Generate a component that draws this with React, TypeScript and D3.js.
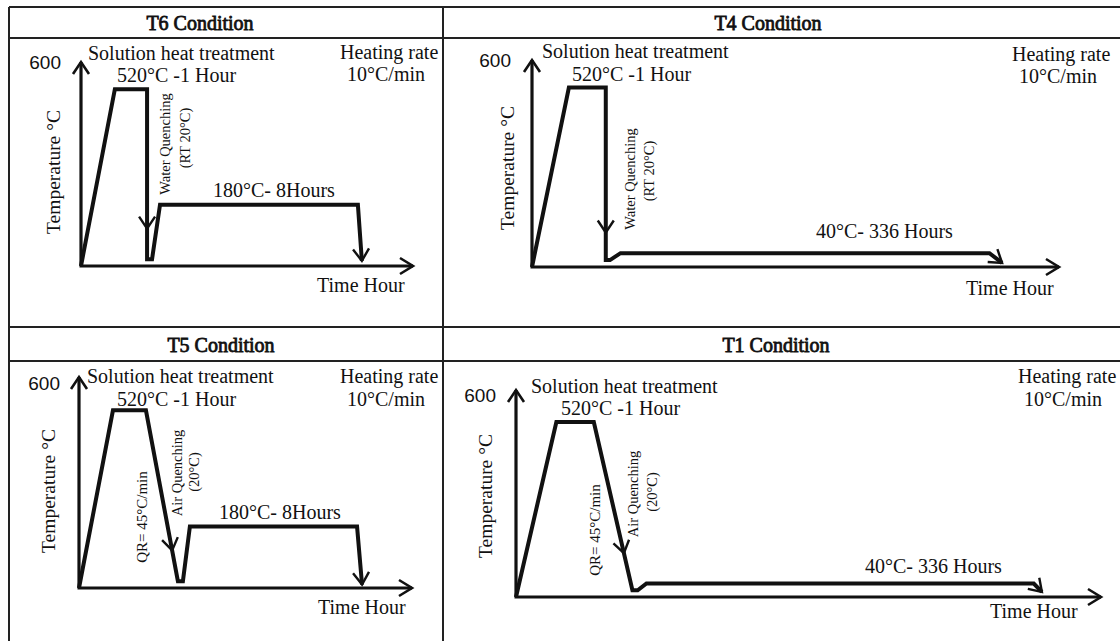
import React from "react";
import * as d3 from "d3";

const panelTitles = ["T6 Condition", "T4 Condition", "T5 Condition", "T1 Condition"];

// schematic time (0-100 along the time axis) and temperature (°C) of each profile
const t6Time = [0, 10.2, 19.9, 19.9, 21.4, 23.8, 83.4, 84.6];
const t6Temp = [0, 520, 520, 20, 20, 180, 180, 15];
const t4Time = [0, 7.0, 14.0, 14.0, 14.8, 16.8, 86.8, 89.2];
const t4Temp = [0, 520, 520, 20, 20, 40, 40, 12];
const t5Time = [0, 10.2, 20.1, 29.7, 31.2, 33.3, 83.5, 85.0];
const t5Temp = [0, 520, 520, 20, 20, 180, 180, 10];
const t1Time = [0, 6.9, 13.3, 19.9, 20.8, 22.3, 88.5, 89.9];
const t1Temp = [0, 520, 520, 20, 20, 40, 40, 15];

// where the quench arrow sits along the quench segment (fraction)
const quenchArrowAt = [0.82, 0.84, 0.82, 0.78];

const yTicks = [600];
const solutionText = ["Solution heat treatment", "520°C -1 Hour"];
const rateText = ["Heating rate", "10°C/min"];
const agingText = ["180°C- 8Hours", "40°C- 336 Hours", "180°C- 8Hours", "40°C- 336 Hours"];
const quenchText = [
  ["Water Quenching", "(RT 20°C)"],
  ["Water Quenching", "(RT 20°C)"],
  ["Air Quenching", "(20°C)"],
  ["Air Quenching", "(20°C)"],
];
const qrText = "QR= 45°C/min";
const xLabel = "Time Hour";
const yLabel = "Temperature °C";

const profiles = [
  { time: t6Time, temp: t6Temp },
  { time: t4Time, temp: t4Temp },
  { time: t5Time, temp: t5Temp },
  { time: t1Time, temp: t1Temp },
];

// layout of each panel (pixels)
type Pt = [number, number];
interface Layout {
  x0: number; y0: number; len: number; y600: number; yTop: number; gap: number;
  title: Pt; sol: Pt; hold: Pt; heat: Pt; rate: Pt; aging: Pt; time: Pt;
  yLab: Pt; q1: Pt; q2: Pt; qr?: Pt;
}
const layouts: Layout[] = [
  { x0: 81, y0: 266, len: 332, y600: 62, yTop: 62, gap: 20,
    title: [200, 30], sol: [88, 60], hold: [117, 82], heat: [340, 59], rate: [347, 81],
    aging: [213, 197], time: [317, 292], yLab: [53, 172], q1: [165, 144], q2: [185, 138] },
  { x0: 532, y0: 267, len: 527, y600: 60, yTop: 60, gap: 21,
    title: [768, 30], sol: [542, 58], hold: [572, 81], heat: [1012, 61], rate: [1019, 83],
    aging: [816, 238], time: [966, 295], yLab: [507, 168], q1: [630, 179], q2: [649, 171] },
  { x0: 79, y0: 588, len: 333, y600: 383, yTop: 377, gap: 19,
    title: [221, 352], sol: [87, 383], hold: [117, 406], heat: [340, 383], rate: [347, 406],
    aging: [219, 519], time: [318, 614], yLab: [48, 491], q1: [177, 473], q2: [194, 472], qr: [142, 517] },
  { x0: 516, y0: 597, len: 585, y600: 395, yTop: 390, gap: 20,
    title: [776, 352], sol: [531, 393], hold: [561, 415], heat: [1018, 383], rate: [1024, 406],
    aging: [865, 573], time: [990, 618], yLab: [485, 496], q1: [633, 494], q2: [652, 492], qr: [595, 530] },
];

const serif = "'Liberation Serif', 'Times New Roman', serif";
const sans = "'Liberation Sans', Arial, sans-serif";

// open "V" arrowhead with its tip at (x,y), pointing along (dx,dy)
const chevron = (x: number, y: number, dx: number, dy: number, L: number, W: number) => {
  const n = Math.hypot(dx, dy) || 1;
  const ux = dx / n, uy = dy / n;
  const bx = x - ux * L, by = y - uy * L;
  return `M${bx - uy * W},${by + ux * W}L${x},${y}L${bx + uy * W},${by - ux * W}`;
};

const Txt = ({ p, text, size = 20, anchor = "start", bold = false, rot = false, family = serif }: any) => (
  <text
    transform={`translate(${p[0]},${p[1]})${rot ? " rotate(-90)" : ""}`}
    textAnchor={anchor}
    dominantBaseline={rot ? "central" : "auto"}
    fontFamily={family}
    fontSize={size}
    fill="#111"
    stroke={bold ? "#111" : "none"}
    strokeWidth={bold ? 0.8 : 0}
  >
    {text}
  </text>
);

const Panel = ({ i }: { i: number }) => {
  const L = layouts[i];
  const { time, temp } = profiles[i];
  const x = d3.scaleLinear().domain([0, 100]).range([L.x0, L.x0 + L.len]);
  const y = d3.scaleLinear().domain([0, 600]).range([L.y0, L.y600]);
  const line = d3.line<number>().x((_, k) => x(time[k])).y((d) => y(d));

  // quench arrow on segment 2 -> 3
  const f = quenchArrowAt[i];
  const ax = x(time[2]) + (x(time[3]) - x(time[2])) * f;
  const ay = y(temp[2]) + (y(temp[3]) - y(temp[2])) * f;
  const qdx = x(time[3]) - x(time[2]), qdy = y(temp[3]) - y(temp[2]);
  const n = time.length - 1;
  const edx = x(time[n]) - x(time[n - 1]), edy = y(temp[n]) - y(temp[n - 1]);

  return (
    <g>
      <Txt p={L.title} text={panelTitles[i]} anchor="middle" bold size={20} />
      {/* axes */}
      <g stroke="#111" fill="none" strokeWidth={3.2}>
        <line x1={L.x0} y1={L.y0} x2={L.x0} y2={L.yTop} />
        <line x1={L.x0 - 1.5} y1={L.y0} x2={L.x0 + L.len} y2={L.y0} />
        <path d={chevron(L.x0, L.yTop, 0, -1, 12, 8)} strokeWidth={2.6} />
        <path d={chevron(L.x0 + L.len, L.y0, 1, 0, 13, 8)} strokeWidth={2.6} />
      </g>
      {yTicks.map((v) => (
        <Txt key={v} p={[L.x0 - L.gap, y(v) + 7]} text={String(v)} anchor="end" family={sans} size={19} />
      ))}
      {/* profile */}
      <path d={line(temp) || ""} fill="none" stroke="#111" strokeWidth={4} strokeLinejoin="miter" />
      <g stroke="#111" fill="none" strokeWidth={2.4}>
        <path d={chevron(ax, ay, qdx, qdy, 12, 8)} />
        <path d={chevron(x(time[n]), y(temp[n]), edx, edy, 12, 8)} />
      </g>
      {/* annotations */}
      <Txt p={L.sol} text={solutionText[0]} />
      <Txt p={L.hold} text={solutionText[1]} />
      <Txt p={L.heat} text={rateText[0]} />
      <Txt p={L.rate} text={rateText[1]} />
      <Txt p={L.aging} text={agingText[i]} />
      <Txt p={L.time} text={xLabel} />
      <Txt p={L.yLab} text={yLabel} rot anchor="middle" size={19.5} />
      <Txt p={L.q1} text={quenchText[i][0]} rot anchor="middle" size={14.5} />
      <Txt p={L.q2} text={quenchText[i][1]} rot anchor="middle" size={14.5} />
      {L.qr && <Txt p={L.qr} text={qrText} rot anchor="middle" size={15} />}
    </g>
  );
};

export default function App() {
  const W = 1120, H = 641;
  return (
    <svg width={W} height={H} style={{ position: "absolute", left: 0, top: 0, background: "#fff" }}>
      <rect width={W} height={H} fill="#fff" />
      {/* table grid */}
      <g stroke="#222" strokeWidth={2}>
        {[7, 38, 327, 361].map((yy) => (
          <line key={yy} x1={9} x2={W} y1={yy} y2={yy} />
        ))}
        {[9, 443].map((xx) => (
          <line key={xx} x1={xx} x2={xx} y1={7} y2={H} />
        ))}
      </g>
      {[0, 1, 2, 3].map((i) => (
        <Panel key={i} i={i} />
      ))}
    </svg>
  );
}
